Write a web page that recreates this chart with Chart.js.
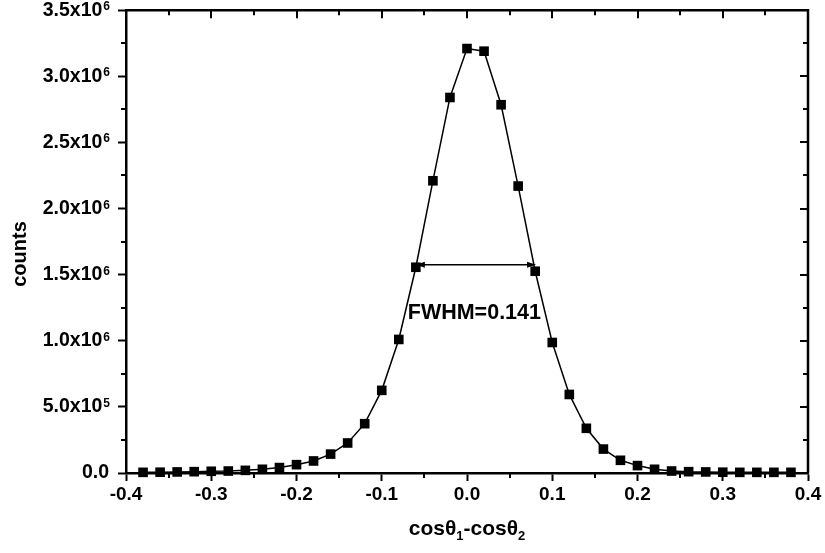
<!DOCTYPE html>
<html>
<head>
<meta charset="utf-8">
<script src="https://cdn.jsdelivr.net/npm/chart.js@4"></script>
<style>
  body { margin: 0; background: #fff; }
  #peakChart { display: block; }
</style>
</head>
<body>
<canvas id="peakChart" width="825" height="553"></canvas>
<script>
const FONT = '"Liberation Sans", Arial, Helvetica, sans-serif';

// cos(theta1) - cos(theta2) bins
const cosDiff = [
    -0.38, -0.36, -0.34, -0.32, -0.30, -0.28, -0.26, -0.24, -0.22, -0.20,
    -0.18, -0.16, -0.14, -0.12, -0.10, -0.08, -0.06, -0.04, -0.02, 0.00,
    0.02, 0.04, 0.06, 0.08, 0.10, 0.12, 0.14, 0.16, 0.18, 0.20,
    0.22, 0.24, 0.26, 0.28, 0.30, 0.32, 0.34, 0.36, 0.38
];
const counts = [
    5000, 6000, 8000, 10000, 13000, 15000, 20000, 28000, 41000, 63000,
    91000, 143000, 227000, 373000, 625000, 1010000, 1556000, 2210000, 2840000, 3210000,
    3190000, 2785000, 2170000, 1526000, 987000, 594000, 338000, 181000, 96000, 56000,
    28000, 15000, 10000, 8000, 6000, 5000, 5000, 5000, 5000
];

// y tick labels: mantissa part and exponent
const yTickValues = [0, 5e5, 1e6, 1.5e6, 2e6, 2.5e6, 3e6, 3.5e6];
const yTickText = ['0.0', '5.0x10', '1.0x10', '1.5x10', '2.0x10', '2.5x10', '3.0x10', '3.5x10'];
const yTickExp = ['', '5', '6', '6', '6', '6', '6', '6'];

// half-maximum marker
const fwhmLeft = -0.060;
const fwhmWidth = 0.141;
const fwhmLevel = 1.575e6;
const fwhmText = 'FWHM=0.141';
const fwhmTextPos = [-0.0695, 1.168e6];

function bold(size) {
    return 'bold ' + size + 'px ' + FONT;
}

// frame, minor ticks, y labels, titles and the FWHM arrow
const decorations = {
    id: 'decorations',
    afterDraw(chart) {
        const { ctx, chartArea: a, scales: { x, y } } = chart;
        ctx.save();
        ctx.strokeStyle = '#000';
        ctx.fillStyle = '#000';

        // top and right edges of the box
        ctx.lineWidth = 2.5;
        ctx.beginPath();
        ctx.moveTo(a.left, a.top);
        ctx.lineTo(a.right, a.top);
        ctx.lineTo(a.right, a.bottom);
        ctx.stroke();

        ctx.lineWidth = 2;
        ctx.beginPath();
        for (let i = 0; i <= 16; i++) {
            const v = -0.4 + i * 0.05;
            const px = Math.round(x.getPixelForValue(v));
            const major = i % 2 === 0;
            const len = major ? 8 : 5;
            if (!major) {
                ctx.moveTo(px, a.bottom);
                ctx.lineTo(px, a.bottom + len);
            }
            ctx.moveTo(px, a.top);
            ctx.lineTo(px, a.top + len);
        }
        for (let i = 0; i <= 14; i++) {
            const v = i * 2.5e5;
            const py = Math.round(y.getPixelForValue(v));
            const major = i % 2 === 0;
            const len = major ? 8 : 5;
            if (!major) {
                ctx.moveTo(a.left, py);
                ctx.lineTo(a.left - len, py);
            }
            ctx.moveTo(a.right, py);
            ctx.lineTo(a.right - len, py);
        }
        ctx.stroke();

        // y tick labels with superscript exponents
        const rightEdge = a.left - 17;
        yTickValues.forEach((v, i) => {
            const py = y.getPixelForValue(v);
            ctx.font = bold(12);
            const supW = yTickExp[i] ? ctx.measureText(yTickExp[i]).width : 0;
            ctx.font = bold(19.5);
            ctx.textAlign = 'right';
            ctx.textBaseline = 'middle';
            ctx.fillText(yTickText[i], rightEdge - supW, py);
            if (yTickExp[i]) {
                ctx.font = bold(12);
                ctx.textAlign = 'left';
                ctx.textBaseline = 'alphabetic';
                ctx.fillText(yTickExp[i], rightEdge - supW + 1, py);
            }
        });

        // y axis title
        ctx.save();
        ctx.translate(20, 254);
        ctx.rotate(-Math.PI / 2);
        ctx.font = bold(20);
        ctx.textAlign = 'center';
        ctx.textBaseline = 'middle';
        ctx.fillText('counts', 0, 0);
        ctx.restore();

        // x axis title with subscripts
        const parts = [['cos\u03b8', false], ['1', true], ['-cos\u03b8', false], ['2', true]];
        let total = 0;
        parts.forEach(([t, sub]) => {
            ctx.font = bold(sub ? 13 : 21);
            total += ctx.measureText(t).width;
        });
        let cx = (a.left + a.right) / 2 - total / 2;
        ctx.textAlign = 'left';
        ctx.textBaseline = 'alphabetic';
        parts.forEach(([t, sub]) => {
            ctx.font = bold(sub ? 13 : 21);
            ctx.fillText(t, cx, sub ? 540 : 535);
            cx += ctx.measureText(t).width;
        });

        // double-headed arrow across the peak at half maximum
        const x1 = x.getPixelForValue(fwhmLeft);
        const x2 = x.getPixelForValue(fwhmLeft + fwhmWidth);
        const ay = y.getPixelForValue(fwhmLevel);
        ctx.lineWidth = 1.5;
        ctx.beginPath();
        ctx.moveTo(x1 + 6, ay);
        ctx.lineTo(x2 - 6, ay);
        ctx.stroke();
        ctx.beginPath();
        ctx.moveTo(x1, ay);
        ctx.lineTo(x1 + 9, ay - 3);
        ctx.lineTo(x1 + 9, ay + 3);
        ctx.closePath();
        ctx.moveTo(x2, ay);
        ctx.lineTo(x2 - 9, ay - 3);
        ctx.lineTo(x2 - 9, ay + 3);
        ctx.closePath();
        ctx.fill();

        ctx.font = bold(21.5);
        ctx.textAlign = 'left';
        ctx.textBaseline = 'alphabetic';
        ctx.fillText(fwhmText, x.getPixelForValue(fwhmTextPos[0]), y.getPixelForValue(fwhmTextPos[1]));

        ctx.restore();
    }
};

new Chart(document.getElementById('peakChart'), {
    type: 'line',
    data: {
        datasets: [{
            data: cosDiff.map((c, i) => ({ x: c, y: counts[i] })),
            borderColor: '#000',
            borderWidth: 1.5,
            pointStyle: 'rect',
            pointRadius: 6.8,
            pointBackgroundColor: '#000',
            pointBorderWidth: 0,
            tension: 0,
            clip: false
        }]
    },
    options: {
        responsive: false,
        animation: false,
        devicePixelRatio: 1,
        layout: { padding: { left: 0, right: 17, top: 9, bottom: 0 } },
        plugins: {
            legend: { display: false },
            tooltip: { enabled: false }
        },
        scales: {
            x: {
                type: 'linear',
                min: -0.4,
                max: 0.4,
                ticks: {
                    stepSize: 0.1,
                    autoSkip: false,
                    maxRotation: 0,
                    padding: 2,
                    color: '#000',
                    font: { family: FONT, size: 19, weight: 'bold' },
                    callback: v => v.toFixed(1)
                },
                grid: { drawOnChartArea: false, tickLength: 8, tickWidth: 2, tickColor: '#000' },
                border: { display: true, color: '#000', width: 2.5 },
                afterFit: s => { s.height = 80; }
            },
            y: {
                min: 0,
                max: 3.5e6,
                ticks: { stepSize: 5e5, callback: () => '' },
                grid: { drawOnChartArea: false, tickLength: 8, tickWidth: 2, tickColor: '#000' },
                border: { display: true, color: '#000', width: 2.5 },
                afterFit: s => { s.width = 126; }
            }
        }
    },
    plugins: [decorations]
});
</script>
</body>
</html>
